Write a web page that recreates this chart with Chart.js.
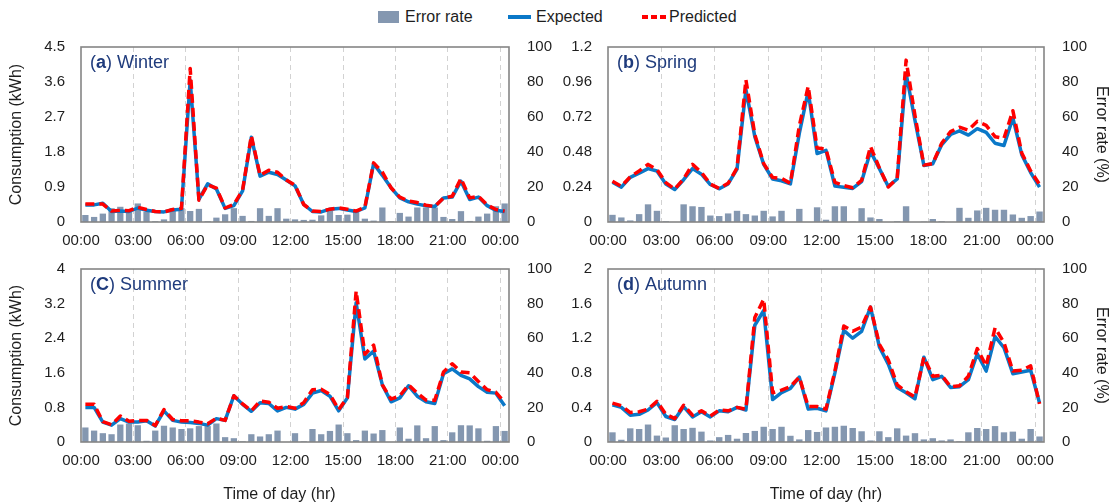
<!DOCTYPE html>
<html>
<head>
<meta charset="utf-8">
<script src="https://cdn.jsdelivr.net/npm/chart.js@4.4.1/dist/chart.umd.min.js"></script>
<style>
  html, body { margin: 0; padding: 0; background: #fff; }
  body { width: 1118px; height: 504px; position: relative; overflow: hidden; font-family: 'Liberation Sans', Arial, sans-serif; color: #1e1e1e; }
  canvas { position: absolute; }
  .sw { position: absolute; }
  .lt { position: absolute; top: 7px; font-size: 16px; line-height: 19px; }
  .bar { top: 11px; width: 21px; height: 12px; background: #8497b0; }
  .line { top: 15px; width: 23px; height: 4px; background: #0a78c8; }
  .dash { top: 15px; width: 24px; height: 4px; background: repeating-linear-gradient(90deg, #ff0000 0 6px, transparent 6px 9px); }
</style>
</head>
<body>
<div id="legend">
  <span class="sw bar" style="left:378px"></span><span class="lt" style="left:405px">Error rate</span>
  <span class="sw line" style="left:508px"></span><span class="lt" style="left:536px">Expected</span>
  <span class="sw dash" style="left:642px"></span><span class="lt" style="left:669px">Predicted</span>
</div>
<canvas id="winter" width="559" height="228" style="left:0;top:28px"></canvas>
<canvas id="spring" width="559" height="228" style="left:559px;top:28px"></canvas>
<canvas id="summer" width="559" height="254" style="left:0;top:250px"></canvas>
<canvas id="autumn" width="559" height="254" style="left:559px;top:250px"></canvas>
<script>
// half-hour slots, 00:00 .. 24:00
const times = [];
for (let i = 0; i <= 48; i++) {
  const h = Math.floor(i / 2) % 24;
  times.push(String(h).padStart(2, '0') + (i % 2 ? ':30' : ':00'));
}
const xTickLabels = ['00:00', '03:00', '06:00', '09:00', '12:00', '15:00', '18:00', '21:00', '00:00'];
const errTicks = [0, 20, 40, 60, 80, 100];

// (a) Winter
const winterTicks = [0, 0.9, 1.8, 2.7, 3.6, 4.5];
const winterExpected = [0.44, 0.44, 0.48, 0.27, 0.28, 0.27, 0.36, 0.30, 0.27, 0.26, 0.31, 0.33, 3.65, 0.58, 0.98, 0.85, 0.35, 0.42, 0.80, 2.18, 1.18, 1.28, 1.22, 1.08, 0.93, 0.45, 0.27, 0.26, 0.33, 0.35, 0.31, 0.27, 0.36, 1.50, 1.20, 0.88, 0.62, 0.52, 0.46, 0.42, 0.40, 0.62, 0.64, 1.05, 0.58, 0.64, 0.42, 0.30, 0.27];
const winterPredicted = [0.46, 0.46, 0.46, 0.28, 0.30, 0.29, 0.38, 0.32, 0.27, 0.26, 0.32, 0.35, 3.95, 0.56, 0.96, 0.87, 0.36, 0.45, 0.82, 2.22, 1.20, 1.33, 1.28, 1.08, 0.95, 0.45, 0.28, 0.27, 0.33, 0.36, 0.33, 0.28, 0.38, 1.52, 1.28, 0.88, 0.64, 0.54, 0.50, 0.43, 0.40, 0.62, 0.66, 1.12, 0.62, 0.66, 0.44, 0.32, 0.28];
const winterError = [4.0, 2.9, 4.8, 7.9, 8.7, 5.8, 10.6, 5.8, 0.4, 1.5, 7.9, 7.9, 6.3, 7.5, 0.4, 2.5, 4.4, 7.9, 3.5, 0.6, 7.9, 3.5, 7.9, 1.9, 1.5, 1.2, 1.3, 3.8, 6.3, 4.0, 4.2, 5.8, 1.9, 0.8, 8.3, 0.4, 5.2, 3.1, 8.3, 8.3, 8.3, 2.9, 1.7, 6.2, 0.6, 3.1, 4.8, 9.0, 10.6];

// (b) Spring
const springTicks = [0, 0.24, 0.48, 0.72, 0.96, 1.2];
const springExpected = [0.272, 0.239, 0.306, 0.335, 0.366, 0.35, 0.261, 0.223, 0.29, 0.366, 0.328, 0.257, 0.228, 0.261, 0.362, 0.908, 0.585, 0.395, 0.295, 0.283, 0.261, 0.607, 0.897, 0.469, 0.491, 0.246, 0.239, 0.23, 0.277, 0.484, 0.366, 0.244, 0.295, 1.02, 0.696, 0.388, 0.40, 0.529, 0.60, 0.625, 0.596, 0.64, 0.614, 0.54, 0.525, 0.714, 0.462, 0.339, 0.239];
const springPredicted = [0.279, 0.245, 0.31, 0.35, 0.395, 0.36, 0.27, 0.225, 0.295, 0.395, 0.34, 0.26, 0.23, 0.265, 0.37, 0.975, 0.6, 0.4, 0.305, 0.30, 0.265, 0.66, 0.93, 0.507, 0.50, 0.272, 0.25, 0.235, 0.285, 0.518, 0.37, 0.24, 0.30, 1.11, 0.73, 0.39, 0.40, 0.54, 0.62, 0.65, 0.63, 0.69, 0.663, 0.585, 0.574, 0.763, 0.473, 0.35, 0.257];
const springError = [4.1, 2.6, 0.9, 4.5, 10.1, 6.4, 0.4, 0, 10.1, 9.0, 8.6, 3.7, 3.4, 4.9, 6.4, 4.5, 3.7, 6.4, 3.2, 6.4, 0, 7.5, 0, 8.4, 1.3, 9.0, 9.0, 0.2, 7.9, 2.6, 1.7, 0, 0.4, 9.0, 0, 0.2, 1.7, 0.4, 0, 8.1, 2.4, 6.6, 8.1, 7.0, 7.0, 4.3, 2.4, 3.4, 6.0];

// (c) Summer
const summerTicks = [0, 0.8, 1.6, 2.4, 3.2, 4];
const summerExpected = [0.80, 0.80, 0.46, 0.39, 0.54, 0.46, 0.46, 0.49, 0.37, 0.72, 0.50, 0.46, 0.45, 0.43, 0.39, 0.54, 0.50, 1.07, 0.87, 0.71, 0.91, 0.89, 0.72, 0.80, 0.76, 0.87, 1.13, 1.19, 1.06, 0.72, 1.02, 3.22, 1.92, 2.10, 1.32, 0.93, 1.02, 1.30, 1.06, 0.93, 0.89, 1.58, 1.69, 1.54, 1.46, 1.28, 1.15, 1.13, 0.84];
const summerPredicted = [0.87, 0.87, 0.47, 0.40, 0.60, 0.48, 0.50, 0.50, 0.38, 0.75, 0.52, 0.49, 0.49, 0.46, 0.42, 0.55, 0.50, 1.07, 0.88, 0.72, 0.95, 0.92, 0.78, 0.82, 0.78, 0.91, 1.21, 1.22, 1.10, 0.75, 1.03, 3.49, 2.03, 2.24, 1.32, 0.99, 1.07, 1.32, 1.13, 0.97, 0.96, 1.62, 1.81, 1.62, 1.60, 1.40, 1.21, 1.15, 0.91];
const summerError = [8.4, 6.6, 5.1, 4.5, 10.1, 10.7, 9.7, 0.7, 6.6, 9.4, 8.4, 7.5, 7.9, 9.2, 9.2, 10.7, 2.8, 2.2, 0.4, 4.5, 3.2, 4.5, 6.6, 0, 5.1, 0.4, 7.5, 4.5, 6.4, 10.1, 5.1, 1.1, 6.6, 4.9, 6.9, 0, 8.4, 1.9, 9.6, 2.2, 9.2, 1.1, 5.6, 9.7, 9.6, 7.9, 0.7, 9.2, 6.4];

// (d) Autumn
const autumnTicks = [0, 0.4, 0.8, 1.2, 1.6, 2];
const autumnExpected = [0.43, 0.40, 0.31, 0.32, 0.37, 0.455, 0.295, 0.26, 0.41, 0.29, 0.35, 0.29, 0.36, 0.35, 0.40, 0.37, 1.35, 1.52, 0.49, 0.57, 0.62, 0.75, 0.38, 0.39, 0.36, 0.80, 1.29, 1.20, 1.28, 1.56, 1.10, 0.90, 0.63, 0.57, 0.50, 0.98, 0.72, 0.76, 0.63, 0.64, 0.72, 1.02, 0.82, 1.22, 1.09, 0.79, 0.81, 0.83, 0.45];
const autumnPredicted = [0.45, 0.42, 0.34, 0.35, 0.38, 0.47, 0.32, 0.27, 0.425, 0.31, 0.36, 0.30, 0.37, 0.36, 0.40, 0.38, 1.44, 1.65, 0.57, 0.60, 0.64, 0.75, 0.41, 0.41, 0.38, 0.82, 1.34, 1.28, 1.33, 1.56, 1.13, 0.95, 0.66, 0.58, 0.52, 0.98, 0.76, 0.77, 0.64, 0.65, 0.76, 1.08, 0.88, 1.32, 1.15, 0.82, 0.83, 0.88, 0.44];
const autumnError = [5.6, 1.3, 7.9, 7.5, 10.1, 3.7, 2.6, 9.7, 7.5, 8.2, 6.0, 0.9, 2.8, 4.1, 1.9, 5.2, 6.4, 8.8, 7.5, 8.8, 3.6, 1.5, 6.9, 5.8, 8.4, 8.8, 9.4, 8.1, 6.2, 0.9, 6.2, 2.8, 7.9, 3.7, 5.1, 1.5, 2.2, 0.9, 1.5, 0.4, 5.6, 8.1, 7.5, 9.2, 5.6, 6.0, 1.9, 7.5, 3.2];

const FONT = "'Liberation Sans', Arial, sans-serif";
const INK = '#1e1e1e';

// grey box round the plot area
const frame = {
  id: 'frame',
  afterDatasetsDraw(chart) {
    const { ctx, chartArea: a } = chart;
    ctx.save();
    ctx.strokeStyle = '#858585';
    ctx.lineWidth = 1.6;
    ctx.strokeRect(a.left, a.top, a.right - a.left, a.bottom - a.top);
    ctx.restore();
  }
};

// "(a) Winter" tag, letter in bold
const panelTag = {
  id: 'panelTag',
  afterDraw(chart, args, opts) {
    const { ctx, chartArea: a } = chart;
    let x = a.left + 9;
    const y = a.top + 16;
    ctx.save();
    ctx.fillStyle = '#1f3b7c';
    ctx.textBaseline = 'middle';
    [['(', ''], [opts.letter, 'bold '], [') ' + opts.name, '']].forEach(([t, w]) => {
      ctx.font = w + '18px ' + FONT;
      ctx.fillText(t, x, y);
      x += ctx.measureText(t).width;
    });
    ctx.restore();
  }
};

function makePanel(id, p) {
  new Chart(document.getElementById(id), {
    data: {
      labels: times,
      datasets: [
        { type: 'line', label: 'Predicted', data: p.predicted, yAxisID: 'y', order: 1,
          borderColor: '#ff0000', borderWidth: 3.5, borderDash: [9, 5], borderJoinStyle: 'round',
          pointRadius: 0, tension: 0 },
        { type: 'line', label: 'Expected', data: p.expected, yAxisID: 'y', order: 2,
          borderColor: '#0a78c8', borderWidth: 3.5, borderJoinStyle: 'round',
          pointRadius: 0, tension: 0 },
        { type: 'bar', label: 'Error rate', data: p.error, yAxisID: 'y1', order: 3,
          backgroundColor: '#8497b0', barPercentage: 0.72, categoryPercentage: 1 }
      ]
    },
    options: {
      responsive: false,
      animation: false,
      layout: { padding: { left: p.padL, right: p.padR, top: p.padT, bottom: 0 } },
      plugins: {
        legend: { display: false },
        tooltip: { enabled: false },
        panelTag: { letter: p.letter, name: p.name }
      },
      scales: {
        x: {
          offset: true,
          grid: {
            offset: true, drawTicks: false, lineWidth: 1,
            color: c => (c.index % 6 === 0 && c.index > 0) ? '#d2d2d2' : 'rgba(0,0,0,0)'
          },
          border: { display: false, dash: [5, 4] },
          ticks: {
            autoSkip: false, maxRotation: 0, padding: 10, labelOffset: -4.4,
            color: INK, font: { family: FONT, size: 15 },
            callback: (v, i) => i % 6 === 0 ? xTickLabels[i / 6] : ''
          },
          title: { display: p.xTitle, text: p.xTitleText, color: INK, padding: 0,
                   font: { family: FONT, size: 16 } },
          afterFit: s => { s.height = p.xH; }
        },
        y: {
          position: 'left',
          min: 0, max: p.ticks[p.ticks.length - 1],
          afterBuildTicks: s => { s.ticks = p.ticks.map(v => ({ value: v })); },
          grid: { display: false },
          border: { display: false },
          ticks: { padding: 8, color: INK, font: { family: FONT, size: 15 },
                   callback: v => String(+v.toFixed(2)) },
          title: { display: p.leftTitle, text: 'Consumption (kWh)', color: INK,
                   padding: { top: 3, bottom: 0 }, font: { family: FONT, size: 16 } },
          afterFit: s => { s.width = p.yW; }
        },
        y1: {
          position: 'right',
          min: 0, max: 100,
          afterBuildTicks: s => { s.ticks = errTicks.map(v => ({ value: v })); },
          grid: { display: false },
          border: { display: false },
          ticks: { padding: 10, color: INK, font: { family: FONT, size: 15 } },
          title: { display: p.rightTitle, text: 'Error rate (%)', color: INK,
                   padding: { top: 3, bottom: 0 }, font: { family: FONT, size: 16 } },
          afterFit: s => { s.width = p.y1W; }
        }
      }
    },
    plugins: [frame, panelTag]
  });
}

makePanel('winter', { letter: 'a', name: 'Winter', ticks: winterTicks,
  expected: winterExpected, predicted: winterPredicted, error: winterError,
  padL: 4, padR: 0, padT: 16, yW: 77, y1W: 50, xH: 34,
  leftTitle: true, rightTitle: false, xTitle: false, xTitleText: '' });
makePanel('spring', { letter: 'b', name: 'Spring', ticks: springTicks,
  expected: springExpected, predicted: springPredicted, error: springError,
  padL: 0, padR: 4, padT: 16, yW: 49, y1W: 70, xH: 34,
  leftTitle: false, rightTitle: true, xTitle: false, xTitleText: '' });
makePanel('summer', { letter: 'C', name: 'Summer', ticks: summerTicks,
  expected: summerExpected, predicted: summerPredicted, error: summerError,
  padL: 4, padR: 0, padT: 14, yW: 77, y1W: 50, xH: 62,
  leftTitle: true, rightTitle: false, xTitle: true, xTitleText: 'Time of day (hr)       ' });
makePanel('autumn', { letter: 'd', name: 'Autumn', ticks: autumnTicks,
  expected: autumnExpected, predicted: autumnPredicted, error: autumnError,
  padL: 0, padR: 4, padT: 14, yW: 49, y1W: 70, xH: 62,
  leftTitle: false, rightTitle: true, xTitle: true, xTitleText: 'Time of day (hr)' });
</script>
</body>
</html>
